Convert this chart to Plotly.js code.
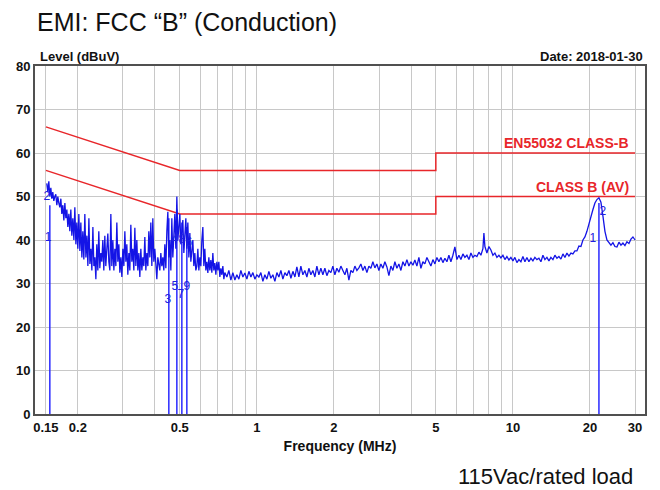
<!DOCTYPE html>
<html>
<head>
<meta charset="utf-8">
<script src="https://cdn.plot.ly/plotly-3.0.1.min.js"></script>
<style>html,body{margin:0;padding:0;background:#fff;}#chart{width:660px;height:490px;}</style>
</head>
<body>
<div id="chart"></div>
<script>
// Measured spectrum (frequency in MHz, level in dBuV)
const freqMHz = [
0.1512,0.1526,0.1540,0.1554,0.1568,0.1582,0.1596,0.1611,0.1625,0.1640,0.1655,0.1670,0.1685,0.1700,0.1716,0.1731,0.1747,0.1763,0.1779,0.1795,
0.1811,0.1827,0.1844,0.1860,0.1877,0.1894,0.1911,0.1929,0.1946,0.1964,0.1981,0.1999,0.2017,0.2036,0.2054,0.2073,0.2091,0.2110,0.2129,0.2149,
0.2168,0.2188,0.2208,0.2228,0.2248,0.2268,0.2289,0.2309,0.2330,0.2351,0.2371,0.2393,0.2414,0.2436,0.2458,0.2480,0.2503,0.2525,0.2548,0.2571,
0.2595,0.2618,0.2642,0.2666,0.2690,0.2714,0.2739,0.2764,0.2789,0.2814,0.2839,0.2865,0.2891,0.2917,0.2943,0.2970,0.2997,0.3024,0.3051,0.3079,
0.3106,0.3134,0.3163,0.3191,0.3220,0.3249,0.3279,0.3308,0.3338,0.3368,0.3398,0.3429,0.3460,0.3491,0.3523,0.3555,0.3587,0.3619,0.3652,0.3685,
0.3718,0.3752,0.3785,0.3820,0.3854,0.3889,0.3924,0.3959,0.3995,0.4031,0.4068,0.4104,0.4141,0.4179,0.4217,0.4255,0.4293,0.4332,0.4371,0.4411,
0.4451,0.4491,0.4531,0.4572,0.4614,0.4655,0.4697,0.4740,0.4783,0.4826,0.4870,0.4914,0.4958,0.5003,0.5048,0.5094,0.5140,0.5186,0.5233,0.5280,
0.5328,0.5376,0.5425,0.5474,0.5523,0.5573,0.5623,0.5674,0.5725,0.5777,0.5830,0.5882,0.5935,0.5989,0.6043,0.6098,0.6153,0.6208,0.6264,0.6321,
0.6378,0.6436,0.6494,0.6552,0.6612,0.6671,0.6732,0.6792,0.6854,0.6916,0.6978,0.7041,0.7105,0.7169,0.7234,0.7299,0.7365,0.7432,0.7499,
0.7635,0.7774,0.7915,0.8059,0.8205,0.8355,0.8507,0.8661,0.8818,0.8979,0.9142,0.9308,0.9477,0.9649,0.9824,
1.000,1.0182,1.0367,1.0555,1.0746,1.0942,1.1141,1.1343,1.1549,1.1759,1.1973,1.2190,1.2412,1.2637,1.2867,
1.3101,1.3339,1.3581,1.3828,1.4079,1.4330,1.4590,1.4855,1.5125,1.5400,1.5679,1.5964,1.6254,1.6549,1.6850,
1.7154,1.7466,1.7783,1.8106,1.8435,1.8768,1.9109,1.9456,1.9809,2.0169,2.0535,2.0908,2.1288,2.1674,2.2068,
2.2468,2.2876,2.3292,2.3715,2.4145,2.4582,2.5028,2.5483,2.5946,2.6417,2.6896,2.7384,2.7882,2.8388,2.8904,
2.9427,2.9961,3.0506,3.1059,3.1623,3.2197,3.2782,3.3377,3.3983,3.4600,3.5227,3.5867,3.6518,3.7181,3.7857,
3.8542,3.9242,3.9955,4.0680,4.1419,4.2170,4.2936,4.3716,4.4510,4.5318,4.6139,4.6977,4.7830,4.8699,4.9583,
5.0481,5.1398,5.2331,5.3281,5.4249,5.5233,5.6236,5.7257,5.8297,5.9356,6.0430,6.1527,6.2645,6.3782,6.4940,
6.6119,6.7320,6.8542,6.9787,7.1054,7.2341,7.3655,7.4992,7.6354,7.7043,7.7740,7.9150,8.0587,8.2050,8.3540,8.5057,
8.6596,8.8169,8.9770,9.1400,9.3060,9.4750,9.6471,9.8222,10.001,10.182,10.366,10.554,10.746,10.941,11.140,
11.342,11.548,11.758,11.971,12.189,12.409,12.634,12.864,13.098,13.335,13.577,13.824,14.075,14.330,14.590,
14.855,15.125,15.399,15.679,15.964,16.254,16.549,16.849,17.155,17.467,17.783,18.106,18.435,18.770,19.110,
19.457,19.811,20.170,20.537,20.910,21.288,21.675,22.068,22.470,22.878,23.292,23.715,24.146,24.584,25.030,
25.484,25.947,26.418,26.898,27.386,27.883,28.389,28.905,29.429,30.0
];
const levelDbuV = [
53,51,53.5,50,52,49.5,51,49,50,50.5,48,50,48.5,47.5,49.5,46,48,44.5,48.5,45,
47,43,46,42,47,41,45,40,47.5,39,44,38,46,37.5,44,36,42,35.5,46,36,
41,34,45,34.5,38,33,43,34,36,31,39,33,42,33.5,37,35,40,33,41,34,
38,41.5,35,33,46,34,40,33,38,34,44,35,39,32.5,36,31.5,38,34,42,35,
39,32,37,33,43.5,35,38,33,42.8,34,40,33,37,31.5,38,33,36,34,40.7,33,
37,34,42,36,44,34,45,35,38,33,31,36,34,33,37,34,36,33,39,33.5,
42,46.5,36,40,33,45,36,41,46,38,50,40,44,46,39,42,44.6,37,41,45,
38,44,36,41.6,35,38,40,34,37,33,34,38,33,36,34,40,43,34,38,33,
35,32.4,36,33,35.4,32.5,37,33,34.7,32,35,33,35,31.5,33.5,32,34,31,32.5,
31.5,33,30.8,32.5,30.8,32,31,33,31.5,32.4,31,32.8,31.5,32.5,31,
32,31.5,32.5,30.5,32,31,32.8,31.2,32,30.5,32.5,31.5,33,31,32.5,
31.8,33,31.2,32.8,31.5,33.8,31.5,34,32,33,31.5,33.5,32,33,31.5,
34,32,33.5,32,33.5,31.8,33,32.5,34,32,33.5,32.6,34,33,32,
33.5,30.8,33,32.5,34,33,33.6,34.5,33,34,32.5,34,33.5,35,33.6,
34.5,33,34.5,33.5,35,33.8,31.8,34,33,35,33.5,34.5,33,35,34,
35.5,34,35,34.2,35.4,34,36,33.5,35,34.5,36,35,34,35.5,34.5,
36,35,36,34.8,35.8,35,36.5,35,36.5,38.4,35.5,36.5,35.5,36.8,36,
36.5,35.5,37,36,36.5,36.2,37.2,36.5,38,41.6,38.5,37,38.5,37.7,36.5,37,
36,36.5,35.9,36.5,35.5,36.2,35.4,36,35.2,36,34.8,35.5,35,36.2,35,
36,35,35.8,35.2,36,35.5,35.8,35,36.5,35.5,36,35.2,36,35.5,36.5,
35.8,36.2,35.6,36.8,36,37,36.3,37,36.8,37.5,37.5,38.6,38.5,40,40.7,
42,43.9,45.5,47,48.5,49.3,49.7,48.7,45.5,42,40,39.5,38.8,39.4,38.5,
38.4,39.5,38.8,39.3,38.7,39.6,39.2,40.2,40.7,40
];

// Limit lines
const qpFreq  = [0.15, 0.5, 5, 5, 30];
const qpLimit = [66, 56, 56, 60, 60];
const avFreq  = [0.15, 0.5, 5, 5, 30];
const avLimit = [56, 46, 46, 50, 50];
const qpName = 'EN55032 CLASS-B';
const avName = 'CLASS B (AV)';

// Marker lines
const markerFreq = [0.1554, 0.4531, 0.4870, 0.5094, 0.5328, 21.675];
const markerTop  = [48, 45, 47, 44, 43, 48.5];

// Marker labels
const labelFreq  = [0.1512, 0.1530, 0.4491, 0.4783, 0.5048, 0.5328, 0.4783, 0.5094, 0.5425, 20.537, 22.470];
const labelLevel = [50, 40.5, 26.2, 29.2, 27.4, 29.2, 40, 40, 39.3, 40.2, 46.4];
const labelText  = ['2', '1', '3', '5', '7', '9', '4', '8', '6', '1', '2'];

// Axis ticks
const gridFreq  = [0.15,0.2,0.3,0.4,0.5,0.6,0.7,0.8,0.9,1,2,3,4,5,6,7,8,9,10,20,30];
const gridLabel = ['0.15','0.2','','','0.5','','','','','1','2','','','5','','','','','10','20','30'];
const yTicks = [0,10,20,30,40,50,60,70,80];

const FONT = 'Liberation Sans, Arial, sans-serif';
const RED = '#e8262a';
const BLUE = '#1414e6';

const markerX = [], markerY = [];
markerFreq.forEach((f, i) => { markerX.push(f, f, null); markerY.push(0, markerTop[i], null); });

const traces = [
  {x: qpFreq, y: qpLimit, mode: 'lines', line: {color: RED, width: 1.5}, hoverinfo: 'skip'},
  {x: avFreq, y: avLimit, mode: 'lines', line: {color: RED, width: 1.5}, hoverinfo: 'skip'},
  {x: markerX, y: markerY, mode: 'lines', line: {color: '#2a2aff', width: 1.5}, connectgaps: false, hoverinfo: 'skip'},
  {x: freqMHz, y: levelDbuV, mode: 'lines', line: {color: BLUE, width: 1.3}},
  {x: labelFreq, y: labelLevel, text: labelText, mode: 'text', textposition: 'middle center',
   textfont: {family: FONT, size: 12, color: '#2020e0'}, hoverinfo: 'skip'}
];

const layout = {
  width: 660, height: 490,
  margin: {l: 35, r: 15, t: 66, b: 76},
  paper_bgcolor: '#fff', plot_bgcolor: '#fff',
  showlegend: false,
  title: {text: 'EMI: FCC \u201cB\u201d (Conduction)', x: 37/660, xanchor: 'left', xref: 'container',
          y: 1 - 22/490, yanchor: 'middle', yref: 'container',
          font: {family: FONT, size: 25, color: '#111'}},
  xaxis: {
    type: 'log', range: [Math.log10(0.136), Math.log10(32.8)],
    tickmode: 'array', tickvals: gridFreq, ticktext: gridLabel,
    showgrid: true, gridcolor: '#c8c8c8', gridwidth: 1,
    showline: true, mirror: true, linecolor: '#505050', linewidth: 2,
    ticks: '', zeroline: false,
    tickfont: {family: FONT, size: 13, color: '#111', weight: 'bold'},
    title: {text: 'Frequency (MHz)', standoff: 8, font: {family: FONT, size: 14, color: '#111', weight: 'bold'}}
  },
  yaxis: {
    range: [0, 80], tickmode: 'array', tickvals: yTicks,
    showgrid: true, gridcolor: '#c8c8c8', gridwidth: 1,
    showline: true, mirror: true, linecolor: '#505050', linewidth: 2,
    ticks: '', zeroline: false,
    tickfont: {family: FONT, size: 13, color: '#111', weight: 'bold'}
  },
  annotations: [
    {text: 'Level (dBuV)', xref: 'paper', yref: 'paper', x: 0.005, y: 1, xanchor: 'left', yanchor: 'bottom',
     showarrow: false, font: {family: FONT, size: 13, color: '#111', weight: 'bold'}},
    {text: 'Date: 2018-01-30', xref: 'paper', yref: 'paper', x: 1, y: 1, xanchor: 'right', yanchor: 'bottom',
     showarrow: false, font: {family: FONT, size: 13, color: '#111', weight: 'bold'}},
    {text: qpName, xref: 'x', yref: 'y', x: Math.log10(qpFreq[qpFreq.length-1]), y: qpLimit[qpLimit.length-1],
     xanchor: 'right', yanchor: 'bottom', xshift: -4, showarrow: false,
     font: {family: FONT, size: 14, color: RED, weight: 'bold'}},
    {text: avName, xref: 'x', yref: 'y', x: Math.log10(avFreq[avFreq.length-1]), y: avLimit[avLimit.length-1],
     xanchor: 'right', yanchor: 'bottom', xshift: -4, showarrow: false,
     font: {family: FONT, size: 14, color: RED, weight: 'bold'}},
    {text: '115Vac/rated load', xref: 'paper', yref: 'paper', x: (635-35)/610, y: (414-476)/348,
     xanchor: 'right', yanchor: 'middle', showarrow: false,
     font: {family: FONT, size: 22, color: '#111'}}
  ]
};

Plotly.newPlot('chart', traces, layout, {staticPlot: true, displayModeBar: false});
</script>
</body>
</html>
